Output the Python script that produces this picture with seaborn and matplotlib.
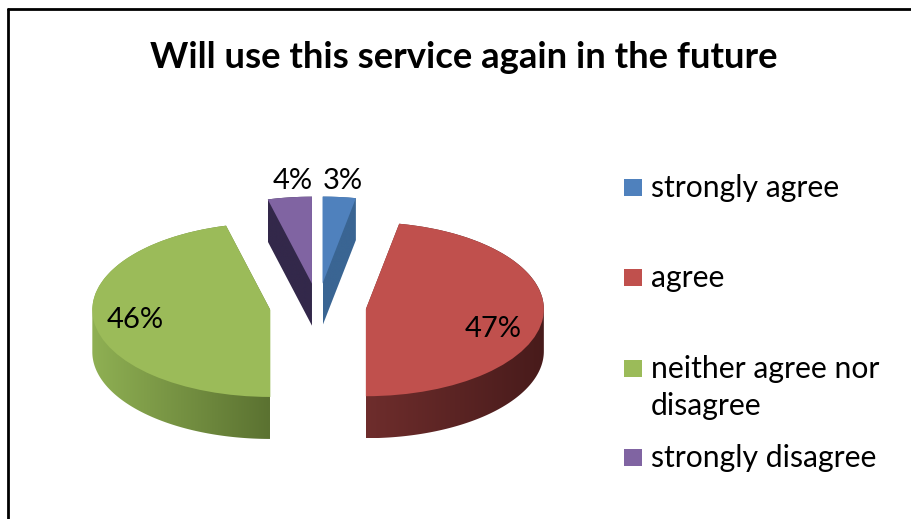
import numpy as np
import matplotlib
matplotlib.use("Agg")
import matplotlib.pyplot as plt
import seaborn as sns
from matplotlib.lines import Line2D
from matplotlib.patches import Rectangle, Polygon
from matplotlib.colors import LinearSegmentedColormap

sns.set_theme(style="white")
plt.rcParams["font.family"] = ["Lato", "DejaVu Sans"]

# Survey answers
categories = ["strongly agree", "agree", "neither agree nor\ndisagree", "strongly disagree"]
shares = [3, 47, 46, 4]
value_labels = ["3%", "47%", "46%", "4%"]

top_colors = ["#4F81BD", "#C0504D", "#9BBB59", "#8064A2"]
# side wall shading, left -> right
side_colors = [("#3A6593", "#3A6593"), ("#6E2D2C", "#481B1B"),
               ("#8FB053", "#5B7231"), ("#33284A", "#33284A")]

W, H = 911, 519
fig = plt.figure(figsize=(W / 100, H / 100), dpi=100)
ax = fig.add_axes([0, 0, 1, 1])

# vertical squash of the pie (horizontal radius / vertical radius, in px)
k = 178 / 87.0


def to_data(px, py):
    return px, (H - py) * k


def hull(points):
    pts = sorted(map(tuple, points))
    def cross(o, a, b):
        return (a[0] - o[0]) * (b[1] - o[1]) - (a[1] - o[1]) * (b[0] - o[0])
    lower, upper = [], []
    for p in pts:
        while len(lower) >= 2 and cross(lower[-2], lower[-1], p) <= 0:
            lower.pop()
        lower.append(p)
    for p in reversed(pts):
        while len(upper) >= 2 and cross(upper[-2], upper[-1], p) <= 0:
            upper.pop()
        upper.append(p)
    return np.array(lower[:-1] + upper[:-1])


cx, cy = to_data(318, 307)
radius = 178
depth = 42 * k
explode = [0.27 * radius] * len(shares)

# top surface
wedges, _ = ax.pie(shares, explode=explode, colors=top_colors, startangle=90,
                   counterclock=False, radius=radius, center=(cx, cy),
                   wedgeprops=dict(linewidth=0, zorder=2), frame=True)

# side walls: each wedge swept downward by the pie depth
for w, (c_left, c_right) in zip(wedges, side_colors):
    x0, y0 = w.center
    t = np.radians(np.linspace(w.theta1, w.theta2, 240))
    outline = np.vstack([[x0, y0], np.column_stack([x0 + w.r * np.cos(t),
                                                    y0 + w.r * np.sin(t)])])
    swept = np.vstack([outline, outline - [0, depth]])
    poly = hull(swept)
    clip = Polygon(poly, closed=True, facecolor="none", edgecolor="none",
                   transform=ax.transData)
    ax.add_patch(clip)
    xmin, xmax = poly[:, 0].min(), poly[:, 0].max()
    ymin, ymax = poly[:, 1].min(), poly[:, 1].max()
    cmap = LinearSegmentedColormap.from_list("side", [c_left, c_right])
    grad = np.linspace(0, 1, 256)[None, :]
    im = ax.imshow(grad, cmap=cmap, extent=(xmin, xmax, ymin, ymax),
                   aspect="auto", origin="lower", zorder=1, interpolation="bilinear")
    im.set_clip_path(clip)

ax.set_aspect("auto")
ax.set_xlim(0, W)
ax.set_ylim(0, H * k)
ax.axis("off")

# value labels
label_pos = [(343, 181), (493, 329), (135, 320), (293, 181)]
for txt, (px, py) in zip(value_labels, label_pos):
    x, y = to_data(px, py)
    ax.text(x, y, txt, ha="center", va="center", fontsize=21, color="black",
            zorder=5)

# title
fig.text(464 / W, 1 - 57 / H, "Will use this service again in the future",
         ha="center", va="center", fontsize=26.3, fontweight="bold", color="black")

# legend
legend_y = [187, 277, 368, 457]
for name, col, py in zip(categories, top_colors, legend_y):
    fig.add_artist(Rectangle((624 / W, 1 - (py + 8.5) / H), 18 / W, 17 / H,
                             transform=fig.transFigure, facecolor=col,
                             edgecolor="none"))
    fig.text(651 / W, 1 - (py - 13) / H, name, ha="left", va="top",
             fontsize=21.7, color="black", linespacing=1.4)

# chart frame (left and top edges)
fig.add_artist(Line2D([8 / W, 8 / W], [0, 1 - 9 / H], transform=fig.transFigure,
                      color="black", linewidth=2))
fig.add_artist(Line2D([8 / W, 1], [1 - 9 / H, 1 - 9 / H], transform=fig.transFigure,
                      color="black", linewidth=2))

fig.savefig("out.png", dpi=100, facecolor="white")
